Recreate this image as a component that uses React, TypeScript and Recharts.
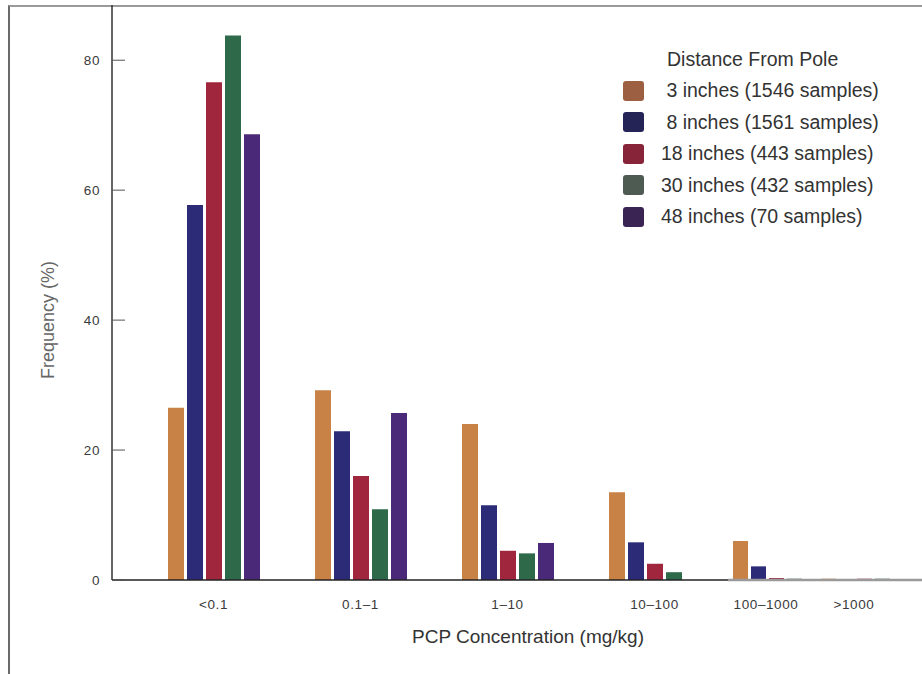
import { Bar, BarChart, Legend, XAxis, YAxis } from "recharts";

// PCP concentration ranges (mg/kg)
const RANGES = ["<0.1", "0.1–1", "1–10", "10–100", "100–1000", ">1000"];
const Y_TICKS = [0, 20, 40, 60, 80];

// frequency (%) per range, by distance from pole
const IN_3 = [26.5, 29.2, 24.0, 13.5, 6.0, 0.2];
const IN_8 = [57.7, 22.9, 11.5, 5.8, 2.1, 0.1];
const IN_18 = [76.6, 16.0, 4.5, 2.5, 0.3, 0.2];
const IN_30 = [83.8, 10.9, 4.1, 1.2, 0.2, 0.2];
const IN_48 = [68.6, 25.7, 5.7, 0, 0, 0];

const SERIES = [
  { key: "in3", label: " 3 inches (1546 samples)", values: IN_3, fill: "#C88246", swatch: "#9C5F42" },
  { key: "in8", label: " 8 inches (1561 samples)", values: IN_8, fill: "#2B2B78", swatch: "#242456" },
  { key: "in18", label: "18 inches (443 samples)", values: IN_18, fill: "#A0263E", swatch: "#88243A" },
  { key: "in30", label: "30 inches (432 samples)", values: IN_30, fill: "#2E6A4A", swatch: "#4E5B53" },
  { key: "in48", label: "48 inches (70 samples)", values: IN_48, fill: "#4A2A78", swatch: "#3A2453" },
];

const rows = RANGES.map((range, i) => {
  const row: Record<string, string | number> = { range };
  SERIES.forEach((s) => {
    row[s.key] = s.values[i];
  });
  return row;
});

// the last two ranges sit closer together, so they get their own narrower band
const headRows = rows.slice(0, 4);
const tailRows = rows.slice(4);

const W = 914;
const H = 669;
const Y_DOMAIN: [number, number] = [0, 88.5];
const FONT = "'Liberation Sans', Arial, Helvetica, sans-serif";
const tickStyle = { fontSize: 13.5, fill: "#3a3a3a", letterSpacing: 0.6 };

const XTitle = ({ viewBox }: any) => (
  <text
    x={viewBox.x + 416}
    y={viewBox.y + 58}
    textAnchor="middle"
    dominantBaseline="middle"
    fontSize={19}
    fill="#333"
  >
    PCP Concentration (mg/kg)
  </text>
);

const YTitle = ({ viewBox }: any) => {
  const x = viewBox.x + 41;
  const y = viewBox.y + 315;
  return (
    <text
      x={x}
      y={y}
      transform={`rotate(-90, ${x}, ${y})`}
      textAnchor="middle"
      dominantBaseline="middle"
      fontSize={18}
      fill="#666"
    >
      Frequency (%)
    </text>
  );
};

function DistanceLegend() {
  return (
    <div style={{ fontSize: 19.5, color: "#333", lineHeight: 1, fontFamily: FONT }}>
      <div style={{ height: 31, display: "flex", alignItems: "center", paddingLeft: 44 }}>
        Distance From Pole
      </div>
      {SERIES.map((s) => (
        <div key={s.key} style={{ height: 31.5, display: "flex", alignItems: "center" }}>
          <span
            style={{
              display: "inline-block",
              width: 21,
              height: 20,
              borderRadius: 3,
              background: s.swatch,
              marginRight: 17,
            }}
          />
          <span style={{ whiteSpace: "pre" }}>{s.label}</span>
        </div>
      ))}
    </div>
  );
}

export default function App() {
  return (
    <div style={{ position: "absolute", left: 8, top: 5, width: W, height: H, fontFamily: FONT }}>
      <div
        style={{
          position: "absolute",
          left: 0,
          top: 0,
          width: W,
          height: H,
          boxSizing: "border-box",
          borderLeft: "2px solid #6a6a6a",
          borderTop: "2px solid #9a9a9a",
        }}
      />
      <div style={{ position: "absolute", left: 0, top: 0 }}>
        <BarChart
          width={W}
          height={H}
          data={headRows}
          barGap={3}
          margin={{ top: 0, right: 194, bottom: 24, left: 0 }}
        >
          <XAxis
            dataKey="range"
            height={70}
            padding={{ left: 28, right: 0 }}
            tickLine={false}
            tickMargin={13}
            tick={tickStyle}
            axisLine={{ stroke: "#222", strokeWidth: 1.5 }}
            label={XTitle}
          />
          <YAxis
            width={104}
            domain={Y_DOMAIN}
            ticks={Y_TICKS}
            tickSize={-13}
            tickMargin={25}
            tick={tickStyle}
            tickLine={{ stroke: "#555" }}
            axisLine={{ stroke: "#333", strokeWidth: 1.5 }}
            label={YTitle}
          />
          <Legend
            layout="vertical"
            align="center"
            verticalAlign="middle"
            wrapperStyle={{ left: 615, top: 39, width: 300 }}
            content={() => <DistanceLegend />}
          />
          {SERIES.map((s) => (
            <Bar key={s.key} dataKey={s.key} fill={s.fill} barSize={16} isAnimationActive={false} />
          ))}
        </BarChart>
      </div>
      <div style={{ position: "absolute", left: 0, top: 0 }}>
        <BarChart
          width={W}
          height={H}
          data={tailRows}
          barGap={3}
          margin={{ top: 0, right: 0, bottom: 24, left: 720 }}
        >
          <XAxis
            dataKey="range"
            height={70}
            padding={{ left: 4, right: 14 }}
            tickLine={false}
            tickMargin={13}
            tick={{ ...tickStyle, dx: -10 }}
            axisLine={{ stroke: "#9a9a9a", strokeWidth: 2.5 }}
          />
          <YAxis hide domain={Y_DOMAIN} />
          {SERIES.map((s) => (
            <Bar key={s.key} dataKey={s.key} fill={s.fill} barSize={15} isAnimationActive={false} />
          ))}
        </BarChart>
      </div>
    </div>
  );
}
